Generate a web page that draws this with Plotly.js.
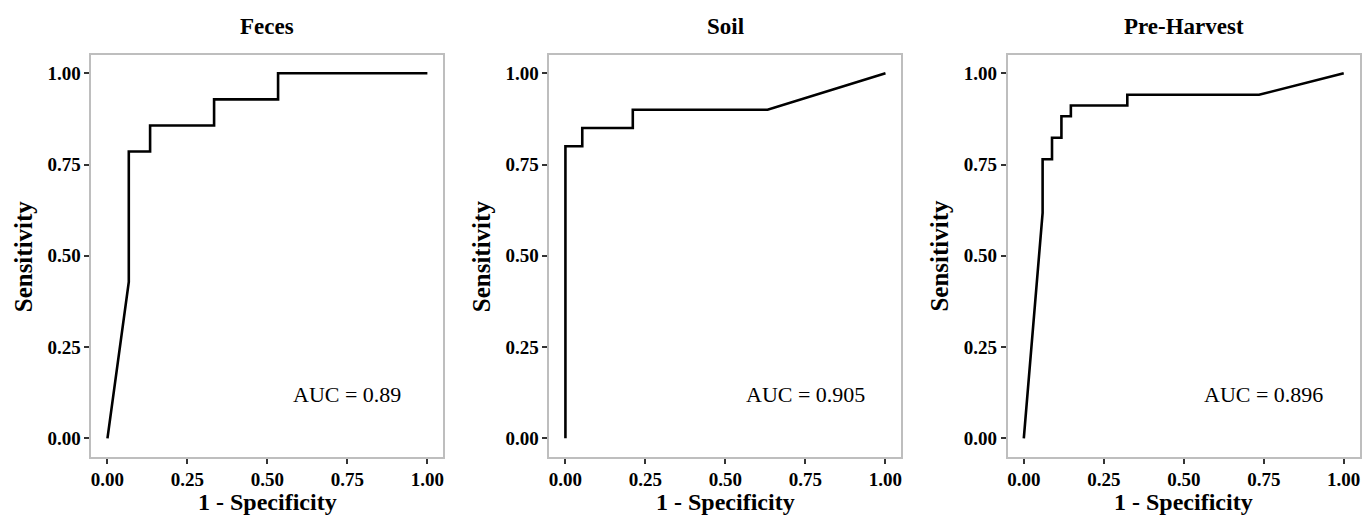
<!DOCTYPE html>
<html>
<head>
<meta charset="utf-8">
<script src="https://cdn.plot.ly/plotly-3.0.1.min.js"></script>
<style>html,body{margin:0;padding:0;background:#fff;}#chart{width:1363px;height:516px;}</style>
</head>
<body>
<div id="chart"></div>
<script>
// Panel names and AUC labels
const panelTitles = ["Feces", "Soil", "Pre-Harvest"];
const aucLabels = ["AUC = 0.89", "AUC = 0.905", "AUC = 0.896"];

// ROC curves: x = 1 - Specificity, y = Sensitivity
const fecesX = [0, 0.0667, 0.0667, 0.1333, 0.1333, 0.3333, 0.3333, 0.5333, 0.5333, 1];
const fecesY = [0, 0.4286, 0.7857, 0.7857, 0.8571, 0.8571, 0.9286, 0.9286, 1, 1];

const soilX = [0, 0, 0.0526, 0.0526, 0.2105, 0.2105, 0.6316, 1];
const soilY = [0, 0.8, 0.8, 0.85, 0.85, 0.9, 0.9, 1];

const preX = [0, 0.0588, 0.0588, 0.0882, 0.0882, 0.1176, 0.1176, 0.1471, 0.1471, 0.3235, 0.3235, 0.7353, 1];
const preY = [0, 0.6176, 0.7647, 0.7647, 0.8235, 0.8235, 0.8824, 0.8824, 0.9118, 0.9118, 0.9412, 0.9412, 1];

const tickVals = [0, 0.25, 0.5, 0.75, 1];
const tickText = ["0.00", "0.25", "0.50", "0.75", "1.00"];

const xTitle = "1 - Specificity";
const yTitle = "Sensitivity";

const serif = "Liberation Serif, Times New Roman, serif";
const curves = [[fecesX, fecesY], [soilX, soilY], [preX, preY]];
const xDomains = [[0.0671, 0.3253], [0.4031, 0.6614], [0.7394, 0.9976]];
const yDomain = [0.1152, 0.8933];
const W = 1363, H = 516;

const data = curves.map((c, i) => ({
  x: c[0], y: c[1], type: "scatter", mode: "lines",
  line: {color: "#000000", width: 2.6},
  xaxis: i === 0 ? "x" : "x" + (i + 1),
  yaxis: i === 0 ? "y" : "y" + (i + 1),
  hoverinfo: "x+y", showlegend: false
}));

const layout = {
  width: W, height: H,
  margin: {l: 0, r: 0, t: 0, b: 0},
  paper_bgcolor: "#ffffff", plot_bgcolor: "#ffffff",
  showlegend: false,
  annotations: []
};

function axisCommon() {
  return {
    range: [-0.05, 1.05],
    tickvals: tickVals, ticktext: tickText,
    ticks: "outside", ticklen: 5, tickwidth: 1.5, tickcolor: "#333333",
    showgrid: false, zeroline: false,
    showline: true, mirror: true, linecolor: "#bebebe", linewidth: 2,
    tickfont: {family: serif, size: 19, color: "#000000", weight: "bold"},
    fixedrange: true
  };
}

for (let i = 0; i < 3; i++) {
  const xa = i === 0 ? "xaxis" : "xaxis" + (i + 1);
  const ya = i === 0 ? "yaxis" : "yaxis" + (i + 1);
  const xs = i === 0 ? "x" : "x" + (i + 1);
  const ys = i === 0 ? "y" : "y" + (i + 1);
  layout[xa] = Object.assign(axisCommon(), {domain: xDomains[i], anchor: ys});
  layout[ya] = Object.assign(axisCommon(), {domain: yDomain, anchor: xs});

  const cx = (xDomains[i][0] + xDomains[i][1]) / 2;
  layout.annotations.push({
    text: "<b>" + panelTitles[i] + "</b>", xref: "paper", yref: "paper",
    x: cx, y: (H - 27) / H, xanchor: "center", yanchor: "middle", showarrow: false,
    font: {family: serif, size: 23, color: "#000000"}
  });
  layout.annotations.push({
    text: "<b>" + xTitle + "</b>", xref: "paper", yref: "paper",
    x: cx, y: (H - 501.5) / H, xanchor: "center", yanchor: "middle", showarrow: false,
    font: {family: serif, size: 24, color: "#000000"}
  });
  const leftPx = xDomains[i][0] * W;
  layout.annotations.push({
    text: "<b>" + yTitle + "</b>", xref: "paper", yref: "paper",
    x: (leftPx - 68) / W, y: (yDomain[0] + yDomain[1]) / 2, xanchor: "center", yanchor: "middle",
    textangle: -90, showarrow: false,
    font: {family: serif, size: 25, color: "#000000"}
  });
  layout.annotations.push({
    text: aucLabels[i], xref: xs, yref: ys,
    x: 0.75, y: 0.12, xanchor: "center", yanchor: "middle", showarrow: false,
    font: {family: serif, size: 22, color: "#000000"}
  });
}

Plotly.newPlot("chart", data, layout, {displayModeBar: false});
</script>
</body>
</html>
